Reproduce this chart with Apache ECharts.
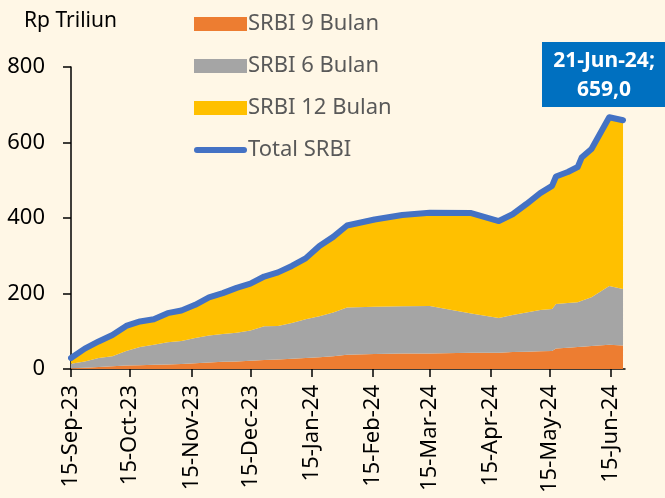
<!DOCTYPE html>
<html>
<head>
<meta charset="utf-8">
<script src="https://cdn.jsdelivr.net/npm/echarts@6/dist/echarts.min.js"></script>
<style>
html,body{margin:0;padding:0;background:#FFF7E6;}
#chart{width:665px;height:498px;}
</style>
</head>
<body>
<div id="chart"></div>
<script>
const dates = ['2023-09-15','2023-09-22','2023-09-29','2023-10-06','2023-10-13','2023-10-20','2023-10-27',
  '2023-11-03','2023-11-10','2023-11-17','2023-11-24','2023-12-01','2023-12-08','2023-12-15','2023-12-22','2023-12-29',
  '2024-01-05','2024-01-12','2024-01-19','2024-01-26','2024-02-02','2024-02-16','2024-03-01','2024-03-15',
  '2024-04-05','2024-04-19','2024-04-26','2024-05-03','2024-05-10','2024-05-16','2024-05-18','2024-05-24',
  '2024-05-29','2024-05-31','2024-06-05','2024-06-14','2024-06-21'];
const srbi9  = [2,3,5,7,9,10,11,12,13,15,17,19,20,22,24,25,27,29,31,34,38,40,41,41,43,43,45,46,47,48,54,56,58,59,61,64,62];
const srbi6  = [12,17,24,27,39,48,53,59,61,67,72,74,76,80,89,89,95,103,109,116,125,125,125,126,104,92,98,104,109,111,118,119,119,122,129,156,150];
const srbi12 = [15,34,44,56,66,68,68,77,81,88,101,108,119,124,132,142,151,161,186,200,217,231,242,247,266,257,267,287,310,326,338,347,358,379,393,447,447];
const tickDates = ['2023-09-15','2023-10-15','2023-11-15','2023-12-15','2024-01-15','2024-02-15','2024-03-15','2024-04-15','2024-05-15','2024-06-15'];
const yTicks = [0,200,400,600,800];
const names = ['SRBI 9 Bulan','SRBI 6 Bulan','SRBI 12 Bulan','Total SRBI'];

const ts = d => Date.UTC(+d.slice(0,4), +d.slice(5,7)-1, +d.slice(8,10));
const total = dates.map((d,i)=>srbi9[i]+srbi6[i]+srbi12[i]);
const pair = arr => dates.map((d,i)=>[ts(d), arr[i]]);
const mon = ['Jan','Feb','Mar','Apr','May','Jun','Jul','Aug','Sep','Oct','Nov','Dec'];
function fmt(v){const d=new Date(v);return String(d.getUTCDate()).padStart(2,'0')+'-'+mon[d.getUTCMonth()]+'-'+String(d.getUTCFullYear()).slice(2);}
const lastIdx = dates.length-1;
const annText = fmt(ts(dates[lastIdx])) + ';\n' + total[lastIdx].toFixed(1).replace('.',',');
const tickVals = tickDates.map(ts);
const xMin = ts('2023-09-15'), xMax = ts('2024-06-22');

const FONT = 'Noto Sans';
const chart = echarts.init(document.getElementById('chart'));
const areaSeries = (name, arr, color) => ({
  name, type:'line', stack:'s', data: pair(arr), symbol:'none', smooth:false,
  lineStyle:{width:0, color}, itemStyle:{color}, areaStyle:{color, opacity:1}, z:2
});
chart.setOption({
  backgroundColor:'#FFF7E6',
  animation:false,
  textStyle:{fontFamily:FONT},
  grid:{left:71, right:40, top:67, bottom:129, containLabel:false},
  title:{text:'Rp Triliun', left:19, top:6, textStyle:{fontFamily:FONT, fontSize:21, fontWeight:'normal', color:'#000'}},
  legend:{
    orient:'vertical', left:189, top:8, itemWidth:53, itemHeight:14, itemGap:20,
    textStyle:{fontFamily:FONT, fontSize:22, color:'#595959', padding:[0,0,0,-4]},
    data:[
      {name:names[0], icon:'rect'},
      {name:names[1], icon:'rect'},
      {name:names[2], icon:'rect'},
      {name:names[3], icon:'path://M3,0 H50 A3,3 0 0 1 50,6 H3 A3,3 0 0 1 3,0 Z'}
    ]
  },
  xAxis:[{
    type:'time', min:xMin, max:xMax,
    axisLine:{lineStyle:{color:'#000', width:1.5}},
    axisTick:{show:false}, axisLabel:{show:false}, splitLine:{show:false}
  },{
    type:'value', min:xMin, max:xMax, position:'bottom',
    axisLine:{show:false},
    axisTick:{show:true, length:8, lineStyle:{color:'#000', width:1.5}, customValues: tickVals},
    axisLabel:{rotate:90, fontSize:22, color:'#000', margin:16, fontFamily:FONT,
      customValues: tickVals, formatter: v=>fmt(v)},
    splitLine:{show:false}
  }],
  yAxis:{
    type:'value', min:0, max:800, interval:200,
    axisLine:{show:true, lineStyle:{color:'#000', width:1.5}},
    axisTick:{show:true, length:8, lineStyle:{color:'#000', width:1.5}},
    axisLabel:{fontSize:22, color:'#000', margin:26, fontFamily:FONT},
    splitLine:{show:false}
  },
  series:[
    areaSeries(names[0], srbi9, '#ED7D31'),
    areaSeries(names[1], srbi6, '#A5A5A5'),
    areaSeries(names[2], srbi12, '#FFC000'),
    {name:names[3], type:'line', data:pair(total), symbol:'none', z:5,
     lineStyle:{width:6, color:'#4472C4', cap:'round', join:'round'}, itemStyle:{color:'#4472C4'}}
  ],
  graphic:[
    {type:'rect', left:542, top:42, shape:{width:130, height:65}, style:{fill:'#0070C0'}, z:10},
    {type:'text', x:604, y:47, z:11,
     style:{text:annText, fill:'#fff', font:'bold 21px "Noto Sans"', lineHeight:29, align:'center', textAlign:'center'}}
  ]
});
</script>
</body>
</html>
